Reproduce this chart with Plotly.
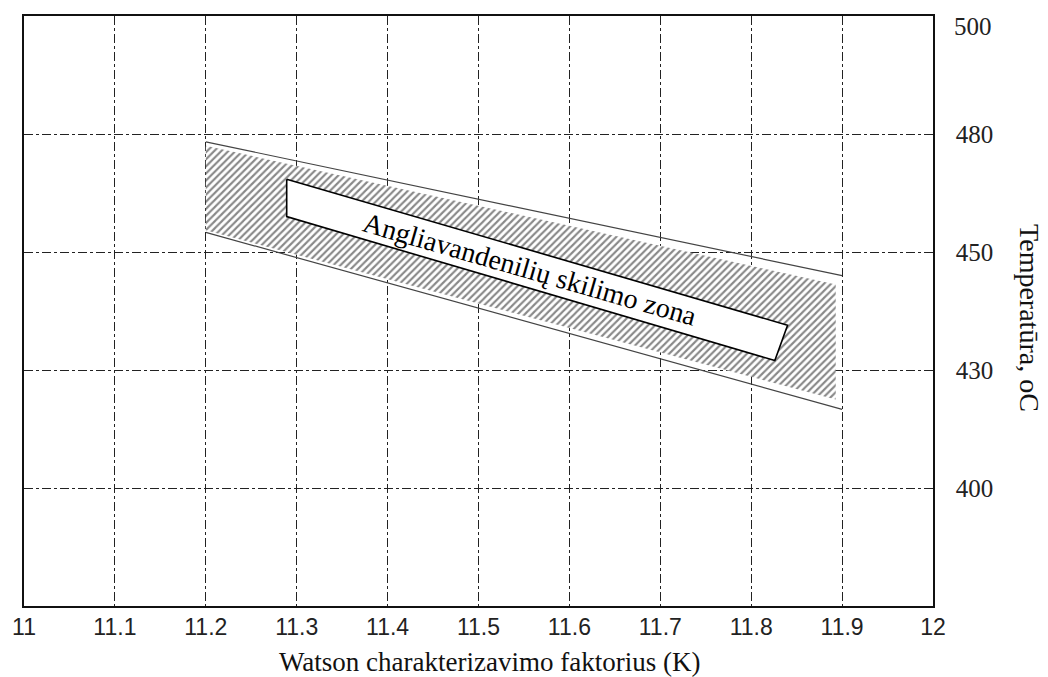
import numpy as np
import plotly.graph_objects as go

# ---- data ----
x_ticks = [11.0, 11.1, 11.2, 11.3, 11.4, 11.5, 11.6, 11.7, 11.8, 11.9, 12.0]
x_tick_labels = ["11", "11.1", "11.2", "11.3", "11.4", "11.5", "11.6", "11.7", "11.8", "11.9", "12"]
y_tick_temps = [400, 430, 450, 480, 500]          # evenly spaced grid lines, non-linear labels
y_tick_pos = [1, 2, 3, 4, 5]

# zone boundaries (K, temperature)
upper_K = [11.2, 11.9]
upper_T = [478, 446]
lower_K = [11.2, 11.9]
lower_T = [455, 420]

# hatched area (slightly inside the boundary lines)
hatch_K = [11.2, 11.893, 11.893, 11.2]
hatch_T = [477, 444.5, 422.5, 455.5]

# label box
box_K = [11.289, 11.840, 11.826, 11.289]
box_T = [468.5, 437.6, 431.6, 459.0]

label_text = "Angliavandenilių skilimo zona"
label_K = 11.557
label_T = 447.0


def ypos(t):
    return np.interp(t, y_tick_temps, y_tick_pos).tolist()


fig = go.Figure()

fig.add_trace(go.Scatter(
    x=hatch_K + [hatch_K[0]], y=ypos(hatch_T + [hatch_T[0]]),
    mode="lines", fill="toself", line=dict(width=0, color="rgba(0,0,0,0)"),
    fillcolor="white",
    fillpattern=dict(shape="/", fgcolor="#111", bgcolor="white", size=5, solidity=0.42),
    hoverinfo="skip", showlegend=False))

fig.add_trace(go.Scatter(x=upper_K, y=ypos(upper_T), mode="lines",
                         line=dict(color="#444", width=1.2), showlegend=False, hoverinfo="skip"))
fig.add_trace(go.Scatter(x=lower_K, y=ypos(lower_T), mode="lines",
                         line=dict(color="#444", width=1.2), showlegend=False, hoverinfo="skip"))

fig.add_trace(go.Scatter(
    x=box_K + [box_K[0]], y=ypos(box_T + [box_T[0]]),
    mode="lines", fill="toself", fillcolor="white",
    line=dict(color="black", width=1.6), showlegend=False, hoverinfo="skip"))

fig.add_annotation(x=label_K, y=ypos([label_T])[0], text=label_text, showarrow=False,
                   textangle=16, font=dict(family="Liberation Serif", size=28, color="black"))

# top tick label sits slightly below the frame in the original
fig.add_annotation(xref="paper", y=y_tick_pos[-1], x=1.0, text=str(y_tick_temps[-1]),
                   showarrow=False, xanchor="left", yanchor="middle", xshift=19, yshift=-10,
                   font=dict(family="Liberation Serif", size=25, color="#222"))

fig.add_annotation(xref="paper", yref="paper", x=1.1067, y=0.488, text="Temperatūra, oC",
                   showarrow=False, textangle=90, xanchor="center", yanchor="middle",
                   font=dict(family="Liberation Serif", size=28, color="#111"))

fig.add_annotation(xref="paper", yref="paper", x=0.512, y=-0.0948,
                   text="Watson charakterizavimo faktorius (K)",
                   showarrow=False, xanchor="center", yanchor="middle",
                   font=dict(family="Liberation Serif", size=27, color="#111"))

fig.update_layout(
    width=1048, height=677,
    margin=dict(l=24, r=115, t=16, b=71),
    paper_bgcolor="white", plot_bgcolor="white",
    xaxis=dict(range=[11, 12], tickvals=x_ticks, ticktext=x_tick_labels,
               showgrid=True, gridcolor="#222", griddash="dashdot", gridwidth=1,
               showline=True, mirror=True, linecolor="#111", linewidth=1.5,
               ticks="", zeroline=False, ticklabelstandoff=0, automargin=False,
               tickfont=dict(family="Liberation Sans", size=23, color="#222")),
    yaxis=dict(range=[0, 5], side="right", tickvals=y_tick_pos[:-1],
               ticktext=[str(t) for t in y_tick_temps[:-1]],
               showgrid=True, gridcolor="#222", griddash="dashdot", gridwidth=1,
               showline=True, mirror=True, linecolor="#111", linewidth=1.5,
               ticks="", zeroline=False, ticklabelstandoff=16, automargin=False,
               tickfont=dict(family="Liberation Serif", size=25, color="#222")),
)

fig.write_html("out.html")
